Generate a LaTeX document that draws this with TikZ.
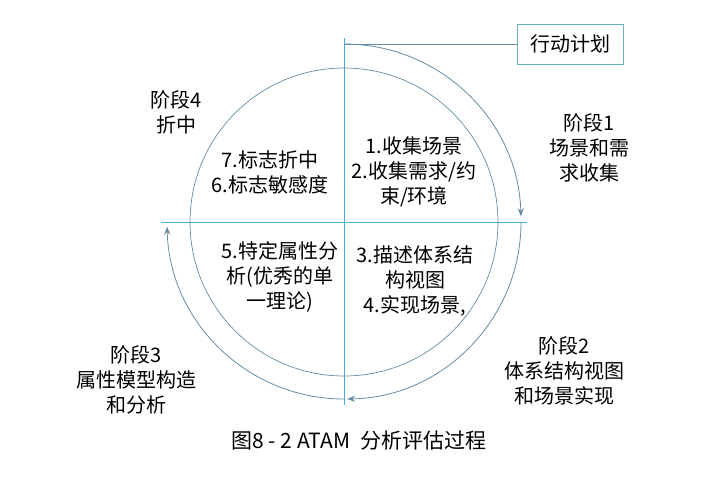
\documentclass[tikz,border=0pt]{standalone}
\usepackage{fontspec}
\setmainfont{Noto Sans CJK SC}
\usetikzlibrary{arrows.meta}
\definecolor{axisblue}{RGB}{70,175,225}
\definecolor{arcblue}{RGB}{100,140,165}
\definecolor{boxteal}{RGB}{110,175,190}
\begin{document}
\begin{tikzpicture}[x=1pt,y=1pt,
    lbl/.style={align=center, inner sep=0pt, font=\fontsize{20}{25}\selectfont},
    flow/.style={arcblue, line width=0.8pt, -{Stealth[length=8pt,width=6pt]}}]
  \useasboundingbox (0,0) rectangle (726,-477);
  \newcommand{\rin}{154}
  \newcommand{\rout}{177}
  \coordinate (o) at (344,-222);
  % axes
  \coordinate (top) at (344,-38);
  \coordinate (bot) at (344,-405);
  \coordinate (lft) at (161,-222);
  \coordinate (rgt) at (527,-222);
  \draw[axisblue, line width=0.8pt] (top) -- (bot);
  \draw[axisblue, line width=0.8pt] (lft) -- (rgt);
  % inner circle
  \draw[arcblue, line width=0.7pt] (o) circle[radius=\rin];
  % action plan
  \node[draw=boxteal, line width=0.8pt, minimum width=106pt, minimum height=40pt,
        font=\fontsize{20}{25}\selectfont] (plan) at (570,-44) {行动计划};
  \coordinate (hook) at (344,-44);
  \draw[arcblue, line width=0.7pt] (hook) -- (plan.west);
  % outer arcs
  \draw[flow] (hook) arc[start angle=90, end angle=1.5, radius=\rout];
  \draw[flow] (o) ++(0:\rout) arc[start angle=0, end angle=-89, radius=\rout];
  \draw[flow] (o) ++(-90:\rout) arc[start angle=-90, end angle=-178.5, radius=\rout];
  % labels
  \node[lbl] (stage4) at (176,-112) {阶段4\\折中};
  \node[lbl] (steps76) at (270,-172) {7.标志折中\\6.标志敏感度};
  \node[lbl] (steps12) at (414,-172) {1.收集场景\\2.收集需求/约\\束/环境};
  \node[lbl] (step5) at (280,-277) {5.特定属性分\\析(优秀的单\\一理论)};
  \node[lbl] (steps34) at (415,-281) {3.描述体系结\\构视图\\4.实现场景,};
  \node[lbl] (stage1) at (589,-148) {阶段1\\场景和需\\求收集};
  \node[lbl] (stage2) at (564,-371) {阶段2\\体系结构视图\\和场景实现};
  \node[lbl] (stage3) at (136,-380) {阶段3\\属性模型构造\\和分析};
  \node[inner sep=0pt, font=\fontsize{21}{25}\selectfont] (caption) at (359,-441)
    {图8 - 2 ATAM\enspace 分析评估过程};
\end{tikzpicture}
\end{document}
